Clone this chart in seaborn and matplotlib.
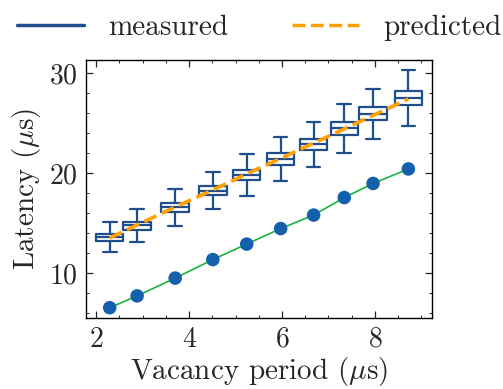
import numpy as np
import pandas as pd
import matplotlib
matplotlib.use("Agg")
import matplotlib.pyplot as plt
from matplotlib.lines import Line2D
from matplotlib.ticker import MultipleLocator
import seaborn as sns

# ---- data ----
periods = [2.29, 2.88, 3.70, 4.51, 5.24, 5.97, 6.68, 7.34, 7.96, 8.72]
whisker_low = [12.08, 13.09, 14.71, 16.36, 17.74, 19.22, 20.57, 21.95, 23.36, 24.71]
q1 = [13.19, 14.34, 16.09, 17.78, 19.29, 20.84, 22.25, 23.80, 25.25, 26.80]
median = [13.57, 14.78, 16.57, 18.21, 19.83, 21.44, 22.86, 24.47, 25.89, 27.50]
q3 = [13.94, 15.11, 17.00, 18.69, 20.33, 21.98, 23.43, 25.08, 26.57, 28.18]
whisker_high = [15.11, 16.36, 18.38, 20.10, 21.88, 23.60, 25.11, 26.93, 28.41, 30.26]
predicted = [13.5, 14.8, 16.6, 18.3, 19.9, 21.45, 22.98, 24.4, 25.75, 27.4]
baseline = [6.53, 7.71, 9.49, 11.34, 12.89, 14.44, 15.79, 17.54, 18.95, 20.40]

BLUE = "#1f4e8c"
DOT = "#1460aa"
GREEN = "#1db33f"
ORANGE = "#ffa000"

sns.set_style("ticks")
plt.rcParams.update({
    "font.family": ["cmr10", "DejaVu Serif"],
    "mathtext.fontset": "cm",
    "axes.formatter.use_mathtext": True,
    "axes.unicode_minus": False,
    "font.size": 20,
    "xtick.direction": "in",
    "ytick.direction": "in",
    "xtick.top": True,
    "ytick.right": True,
    "xtick.minor.visible": True,
    "ytick.minor.visible": True,
    "axes.edgecolor": "black",
    "axes.linewidth": 1.0,
})

# five values per box reproduce exactly the read statistics
rows = []
for i, p in enumerate(periods):
    for v in (whisker_low[i], q1[i], median[i], q3[i], whisker_high[i]):
        rows.append({"period": p, "latency": v})
box_df = pd.DataFrame(rows)
line_df = pd.DataFrame({"period": periods, "predicted": predicted, "baseline": baseline})

fig = plt.figure(figsize=(5.03, 3.89), dpi=100)
ax = fig.add_axes([0.171, 0.1825, 0.688, 0.6635])

sns.lineplot(data=line_df, x="period", y="baseline", ax=ax, color=GREEN, lw=1.2, zorder=2)
sns.scatterplot(data=line_df, x="period", y="baseline", ax=ax, color=DOT, s=95,
                edgecolor="none", zorder=3)
sns.boxplot(data=box_df, x="period", y="latency", native_scale=True, width=1.0,
            fill=False, color=BLUE, whis=(0, 100), linewidth=1.6, ax=ax, zorder=4)
sns.lineplot(data=line_df, x="period", y="predicted", ax=ax, color=ORANGE, lw=2.6,
             linestyle="--", zorder=5)

ax.set_xlim(1.78, 9.23)
ax.set_ylim(5.5, 31.3)
ax.xaxis.set_major_locator(MultipleLocator(2))
ax.xaxis.set_minor_locator(MultipleLocator(0.5))
ax.yaxis.set_major_locator(MultipleLocator(10))
ax.yaxis.set_minor_locator(MultipleLocator(2))
ax.tick_params(which="major", length=5, width=0.9, labelsize=20, pad=6)
ax.tick_params(which="minor", length=2.5, width=0.7)
ax.set_xlabel(r"Vacancy period ($\mu$s)", fontsize=21, labelpad=2)
ax.set_ylabel(r"Latency ($\mu$s)", fontsize=21, labelpad=4)

handles = [Line2D([], [], color=BLUE, lw=2.5),
           Line2D([], [], color=ORANGE, lw=2.5, linestyle="--")]
fig.legend(handles, ["measured", "predicted"], loc="upper center", ncol=2,
           bbox_to_anchor=(0.515, 1.03), frameon=False, fontsize=21,
           handlelength=2.3, handletextpad=0.82, columnspacing=2.2)

fig.savefig("out.png", dpi=100)
